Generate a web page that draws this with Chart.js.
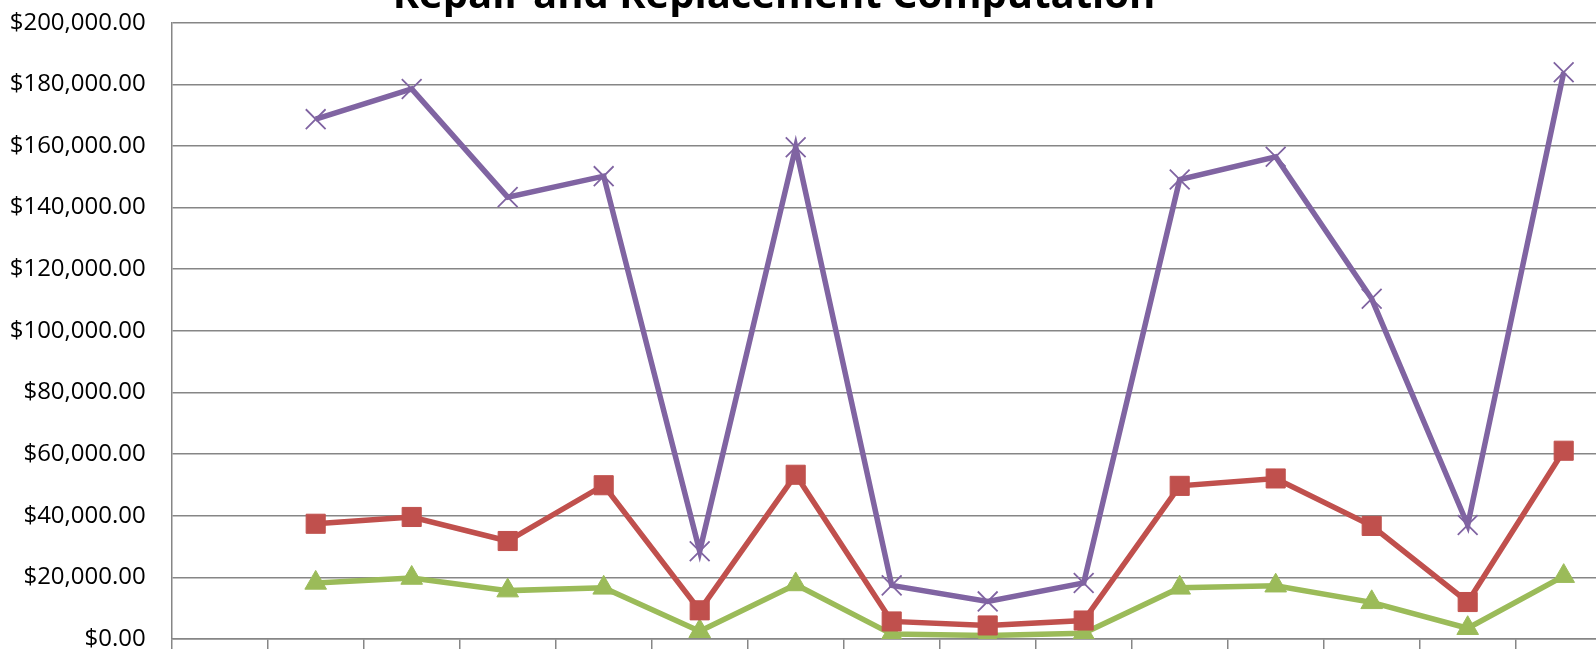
<!DOCTYPE html>
<html>
<head>
<meta charset="utf-8">
<script src="https://cdn.jsdelivr.net/npm/chart.js@4.4.1/dist/chart.umd.min.js"></script>
<style>
    html, body { margin: 0; padding: 0; background: #ffffff; overflow: hidden; }
    #wrap { position: absolute; left: 0; top: 0; }
</style>
</head>
<body>
<div id="wrap"><canvas id="repairChart" width="1640" height="690"></canvas></div>
<script>
// Chart text and data
const chartTitle = 'Repair and Replacement Computation';
const categories = ['', '1', '2', '3', '4', '5', '6', '7', '8', '9', '10', '11', '12', '13', '14'];
const totalCost = [null, 168700, 178500, 143400, 150200, 28500, 159600, 17400, 12200, 18200, 149100, 156500, 110400, 37000, 183900];
const repairCost = [null, 37400, 39600, 31800, 49900, 9300, 53300, 5700, 4400, 6000, 49700, 52100, 36700, 12000, 61100];
const replacementCost = [null, 18200, 19800, 15700, 16600, 2500, 17700, 1600, 1100, 1900, 16600, 17300, 11900, 3500, 20400];
const yTicks = [0, 20000, 40000, 60000, 80000, 100000, 120000, 140000, 160000, 180000, 200000];

const gridColor = '#868686';

// Title sits partly above the page, so draw it ourselves
const titlePlugin = {
    id: 'clippedTitle',
    afterDraw(chart) {
        const ctx = chart.ctx;
        ctx.save();
        ctx.font = 'bold 40px "Open Sans"';
        ctx.fillStyle = '#000000';
        ctx.textAlign = 'center';
        ctx.textBaseline = 'alphabetic';
        ctx.fillText(chartTitle, 774, 8);
        ctx.restore();
    }
};

document.addEventListener('DOMContentLoaded', function () {
    const canvas = document.getElementById('repairChart');
    new Chart(canvas.getContext('2d'), {
        type: 'line',
        data: {
            labels: categories,
            datasets: [
                {
                    label: 'Total',
                    data: totalCost,
                    borderColor: '#8064A2',
                    backgroundColor: '#8064A2',
                    borderWidth: 5.5,
                    tension: 0,
                    pointStyle: 'crossRot',
                    pointRadius: 14,
                    pointBorderWidth: 1.8,
                    pointBorderColor: '#8064A2'
                },
                {
                    label: 'Repair',
                    data: repairCost,
                    borderColor: '#C0504D',
                    backgroundColor: '#C0504D',
                    borderWidth: 5.5,
                    tension: 0,
                    pointStyle: 'rect',
                    pointRadius: 13.5,
                    pointBorderWidth: 1,
                    pointBackgroundColor: '#C0504D',
                    pointBorderColor: '#C0504D'
                },
                {
                    label: 'Replacement',
                    data: replacementCost,
                    borderColor: '#9BBB59',
                    backgroundColor: '#9BBB59',
                    borderWidth: 5.5,
                    tension: 0,
                    pointStyle: 'triangle',
                    pointRadius: 12.5,
                    pointBorderWidth: 1,
                    pointBackgroundColor: '#9BBB59',
                    pointBorderColor: '#9BBB59'
                }
            ]
        },
        options: {
            responsive: false,
            animation: false,
            layout: {
                padding: { left: 0, top: 22.7, right: 28.3, bottom: 31 }
            },
            plugins: {
                legend: { display: false },
                title: { display: false },
                tooltip: { enabled: false }
            },
            scales: {
                x: {
                    offset: true,
                    grid: {
                        offset: true,
                        drawOnChartArea: false,
                        drawTicks: true,
                        tickLength: 20,
                        color: gridColor,
                        lineWidth: 1.5
                    },
                    border: { display: true, color: gridColor, width: 1.5 },
                    ticks: { display: false }
                },
                y: {
                    min: yTicks[0],
                    max: yTicks[yTicks.length - 1],
                    afterBuildTicks: function (scale) {
                        scale.ticks = yTicks.map(v => ({ value: v }));
                    },
                    afterFit: function (scale) {
                        scale.width = 171.7;
                        // label padding should not push the plot area down
                        scale.paddingTop = 0;
                        scale.paddingBottom = 0;
                    },
                    grid: {
                        drawTicks: false,
                        color: gridColor,
                        lineWidth: 1.5
                    },
                    border: { display: true, color: gridColor, width: 1.5 },
                    ticks: {
                        padding: 26,
                        color: '#000000',
                        font: { family: '"Open Sans"', size: 24 },
                        callback: function (value) {
                            return '$' + new Intl.NumberFormat('en-US', { minimumFractionDigits: 2, maximumFractionDigits: 2 }).format(value);
                        }
                    }
                }
            }
        },
        plugins: [titlePlugin]
    });
});
</script>
</body>
</html>
